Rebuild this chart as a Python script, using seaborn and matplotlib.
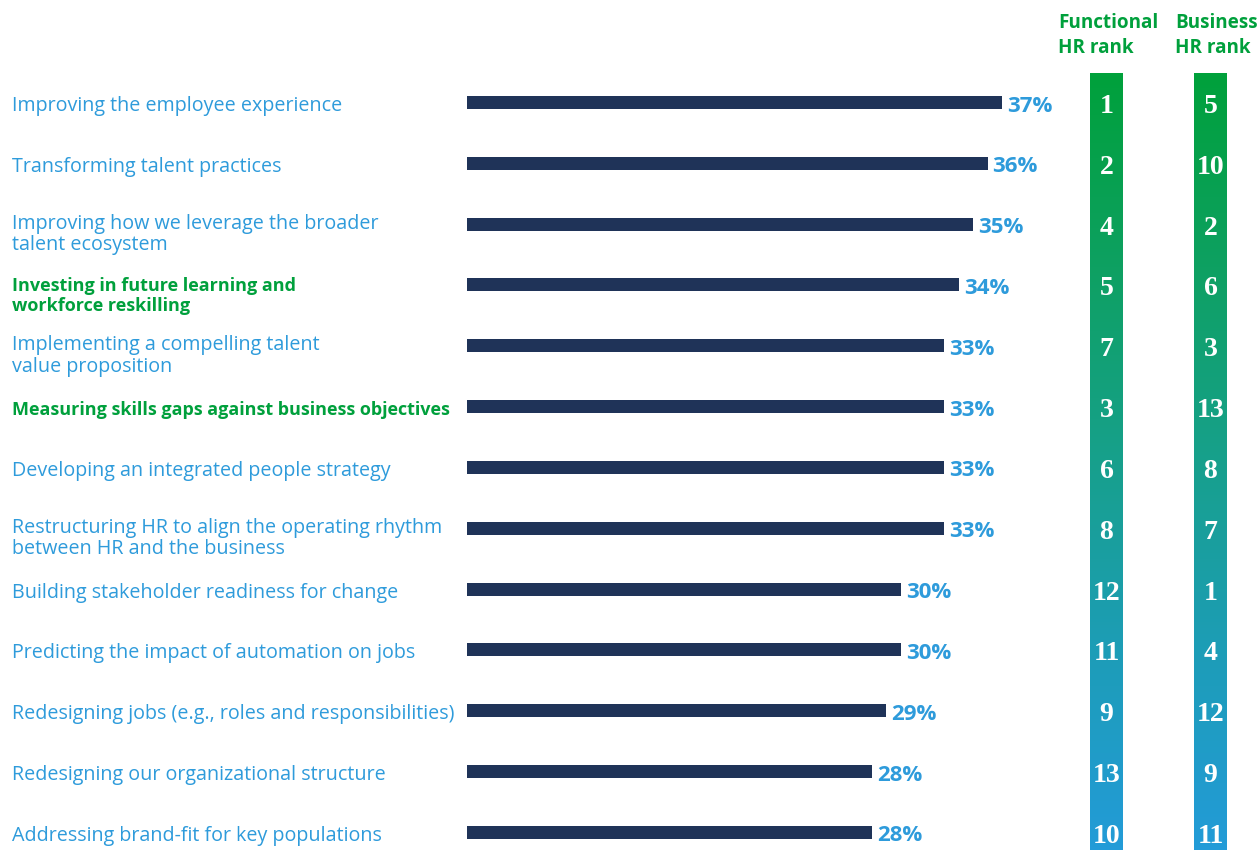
import numpy as np
import pandas as pd
import matplotlib
matplotlib.use("Agg")
import matplotlib.pyplot as plt
import matplotlib.transforms as mtransforms
from matplotlib.colors import LinearSegmentedColormap
import seaborn as sns

categories = [
    "Improving the employee experience",
    "Transforming talent practices",
    "Improving how we leverage the broader\ntalent ecosystem",
    "Investing in future learning and\nworkforce reskilling",
    "Implementing a compelling talent\nvalue proposition",
    "Measuring skills gaps against business objectives",
    "Developing an integrated people strategy",
    "Restructuring HR to align the operating rhythm\nbetween HR and the business",
    "Building stakeholder readiness for change",
    "Predicting the impact of automation on jobs",
    "Redesigning jobs (e.g., roles and responsibilities)",
    "Redesigning our organizational structure",
    "Addressing brand-fit for key populations",
]
values = [37, 36, 35, 34, 33, 33, 33, 33, 30, 30, 29, 28, 28]
highlighted = [False, False, False, True, False, True, False, False, False, False, False, False, False]
functional_rank = [1, 2, 4, 5, 7, 3, 6, 8, 12, 11, 9, 13, 10]
business_rank = [5, 10, 2, 6, 3, 13, 8, 7, 1, 4, 12, 9, 11]
headers = ["Functional\nHR rank", "Business\nHR rank"]

NAVY = "#1f3358"
BLUE = "#2e9bdb"
GREEN = "#00a03c"

sns.set_theme(style="white")
plt.rcParams["font.family"] = ["Open Sans", "DejaVu Sans"]

W, H = 1260, 850
fig = plt.figure(figsize=(W / 100, H / 100), dpi=100)

px_per_unit = 14.46
x0 = 467
xmax = 40
row_h = 60.83
top_px = 102.5 - 0.5 * row_h
ax_h_units = (H - top_px) / row_h
ax = fig.add_axes([x0 / W, 0, xmax * px_per_unit / W, (H - top_px) / H])

df = pd.DataFrame({"cat": categories, "val": values})
sns.barplot(data=df, x="val", y="cat", orient="h", color=NAVY, width=0.214,
            saturation=1, linewidth=0, ax=ax)
ax.set_xlim(0, xmax)
ax.set_ylim(-0.5 + ax_h_units, -0.5)
ax.axis("off")


def shifted(base, dy_px):
    # positive dy_px moves down (screen)
    return mtransforms.offset_copy(base, fig=fig, x=0, y=-dy_px, units="dots")


for i, v in enumerate(values):
    ax.text(v + 0.35, i, f"{v}%", color=BLUE, fontsize=16, fontweight="bold",
            va="baseline", ha="left", transform=shifted(ax.transData, 9))

trans = mtransforms.blended_transform_factory(fig.transFigure, ax.transData)
for i, (c, hl) in enumerate(zip(categories, highlighted)):
    two = "\n" in c
    fig.text(12 / W, i, c, transform=shifted(trans, 26 if two else 8.5),
             color=GREEN if hl else BLUE,
             fontsize=13.0 if hl else 14.2,
             fontweight="bold" if hl else "normal",
             va="baseline", ha="left", linespacing=1.17 if hl else 1.11)

# rank columns with vertical gradient
cmap = LinearSegmentedColormap.from_list(
    "g2b", ["#00a13b", "#0ea062", "#17a08c", "#1d9db8", "#239bd8"])
grad = np.linspace(0, 1, 256).reshape(-1, 1)
col_top = 73
col_specs = [(1090, functional_rank), (1194, business_rank)]
for (cx, ranks), hdr, hx in zip(col_specs, headers, [1058, 1175]):
    cax = fig.add_axes([cx / W, 0, 33 / W, (H - col_top) / H])
    cax.imshow(grad, aspect="auto", cmap=cmap, extent=[0, 1, 1, 0])
    cax.axis("off")
    for i, r in enumerate(ranks):
        fig.text((cx + 16.5) / W, i, str(r), transform=shifted(trans, 10.5),
                 color="white", fontsize=20, fontweight="bold",
                 family="Liberation Serif", va="baseline", ha="center")
    fig.text(hx / W, 1 - 53 / H, hdr, color=GREEN, fontsize=13.6,
             fontweight="bold", va="baseline", ha="left", linespacing=1.32)

fig.savefig("out.png", dpi=100)
